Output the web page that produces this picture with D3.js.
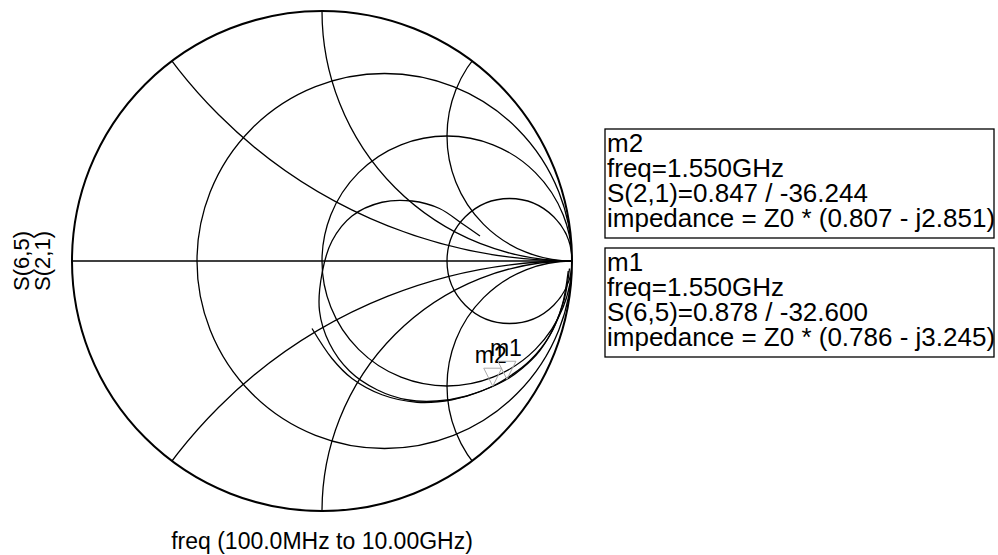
<!DOCTYPE html>
<html>
<head>
<meta charset="utf-8">
<script src="https://cdn.jsdelivr.net/npm/d3@7"></script>
<style>
  body { margin: 0; background: #fff; }
  svg { font-family: "Liberation Sans", Arial, sans-serif; }
</style>
</head>
<body>
<svg width="998" height="555"></svg>
<script>
// grid values
const rCircles = [1 / 3, 1, 3];
const xArcs = [0.5, 1, 2, -0.5, -1, -2];

// traces, reflection coefficient [re, im]
const s21 = [[0.985,-0.04],[0.96,-0.18],[0.91,-0.30],[0.83,-0.40],[0.76,-0.455],[0.683,-0.501],
  [0.58,-0.54],[0.46,-0.56],[0.34,-0.555],[0.22,-0.515],[0.11,-0.44],[0.03,-0.33],[-0.01,-0.2],
  [0.0,-0.05],[0.04,0.08],[0.12,0.18],[0.24,0.235],[0.36,0.24],[0.47,0.21],[0.56,0.15],[0.632,0.1]];
const s65 = [[0.99,-0.03],[0.97,-0.15],[0.93,-0.26],[0.87,-0.36],[0.80,-0.43],[0.740,-0.473],
  [0.65,-0.515],[0.52,-0.555],[0.38,-0.565],[0.24,-0.535],[0.12,-0.47],[0.04,-0.39],[-0.04,-0.27]];

const markers = [
  {name: 'm2', trace: 'S(2,1)', freq: '1.550GHz', mag: 0.847, ang: -36.244, z: '(0.807 - j2.851)', dx: -18},
  {name: 'm1', trace: 'S(6,5)', freq: '1.550GHz', mag: 0.878, ang: -32.600, z: '(0.786 - j3.245)', dx: -17}
];
const axisNames = ['S(6,5)', 'S(2,1)'];
const sweepLabel = 'freq (100.0MHz to 10.00GHz)';

const svg = d3.select('svg');
const cx = 322, cy = 261, R = 250;
const x = d3.scaleLinear().domain([-1, 1]).range([cx - R, cx + R]);
const y = d3.scaleLinear().domain([-1, 1]).range([cy + R, cy - R]);

svg.append('clipPath').attr('id', 'unit')
  .append('circle').attr('cx', x(0)).attr('cy', y(0)).attr('r', x(1) - x(0));

const grid = svg.append('g').attr('clip-path', 'url(#unit)')
  .attr('fill', 'none').attr('stroke', '#000').attr('stroke-width', 1.3);

grid.selectAll('circle.r').data(rCircles).enter().append('circle')
  .attr('class', 'r')
  .attr('cx', d => x(d / (1 + d)))
  .attr('cy', y(0))
  .attr('r', d => x(1 / (1 + d)) - x(0));

grid.selectAll('circle.x').data(xArcs).enter().append('circle')
  .attr('class', 'x')
  .attr('cx', x(1))
  .attr('cy', d => y(1 / d))
  .attr('r', d => x(1 / Math.abs(d)) - x(0));

grid.append('line')
  .attr('x1', x(-1)).attr('x2', x(1)).attr('y1', y(0)).attr('y2', y(0));

svg.append('circle')
  .attr('cx', x(0)).attr('cy', y(0)).attr('r', x(1) - x(0))
  .attr('fill', 'none').attr('stroke', '#000').attr('stroke-width', 2);

const line = d3.line().x(d => x(d[0])).y(d => y(d[1])).curve(d3.curveCatmullRom);
svg.selectAll('path.trace').data([s65, s21]).enter().append('path')
  .attr('class', 'trace')
  .attr('d', line)
  .attr('fill', 'none').attr('stroke', '#000').attr('stroke-width', 1.3);

// markers
const mk = svg.selectAll('g.mk').data(markers).enter().append('g').attr('class', 'mk')
  .attr('transform', d => {
    const a = d.ang * Math.PI / 180;
    return `translate(${x(d.mag * Math.cos(a))},${y(d.mag * Math.sin(a))})`;
  });
mk.append('path').attr('d', 'M0,0L-9,-18L9,-18Z')
  .attr('fill', 'none').attr('stroke', '#aaa').attr('stroke-width', 1);
mk.append('text').attr('x', d => d.dx).attr('y', -23)
  .attr('font-size', 23).text(d => d.name);

// marker readout boxes
const boxes = svg.selectAll('g.box').data(markers).enter().append('g').attr('class', 'box')
  .attr('transform', (d, i) => `translate(605,${129 + i * 119})`);
boxes.append('rect').attr('width', 389).attr('height', 109)
  .attr('fill', '#fff').attr('stroke', '#000').attr('stroke-width', 1.3);
boxes.each(function(d) {
  const lines = [d.name, 'freq=' + d.freq,
    `${d.trace}=${d.mag.toFixed(3)} / ${d.ang.toFixed(3)}`,
    `impedance = Z0 * ${d.z}`];
  d3.select(this).selectAll('text').data(lines).enter().append('text')
    .attr('x', 2).attr('y', (t, i) => 23 + i * 25)
    .attr('font-size', 26).text(t => t);
});

// axis labels
svg.selectAll('text.yname').data(axisNames).enter().append('text')
  .attr('class', 'yname')
  .attr('transform', (d, i) => `translate(${29 + i * 21},${cy}) rotate(-90)`)
  .attr('text-anchor', 'middle').attr('font-size', 22).text(d => d);

svg.append('text').attr('x', x(0)).attr('y', 549)
  .attr('text-anchor', 'middle').attr('font-size', 23).text(sweepLabel);
</script>
</body>
</html>
